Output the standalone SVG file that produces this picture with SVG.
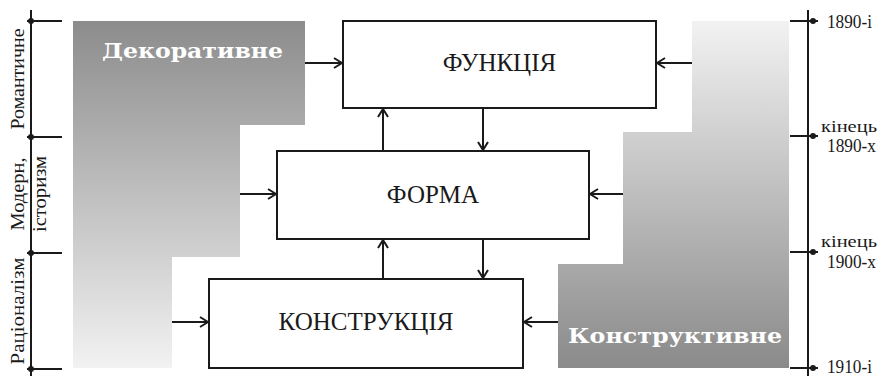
<svg xmlns="http://www.w3.org/2000/svg" width="879" height="376" viewBox="0 0 879 376">
  <style>
    .box { fill: #ffffff; stroke: #1a1a1a; stroke-width: 2; }
    .box-label { font-family: "Liberation Serif", "Times New Roman", serif; font-size: 25px; fill: #1a1a1a; text-anchor: middle; }
    .band-label { font-family: "DejaVu Serif", "Liberation Serif", serif; font-weight: bold; font-size: 20px; fill: #ffffff; }
    .axis { stroke: #1a1a1a; stroke-width: 2; fill: none; }
    .dot { fill: #1a1a1a; }
    .period { font-family: "Liberation Serif", "Times New Roman", serif; font-size: 19px; fill: #1a1a1a; text-anchor: middle; }
    .date { font-family: "Liberation Serif", "Times New Roman", serif; font-size: 18px; fill: #1a1a1a; }
    .date-small { font-family: "Liberation Serif", "Times New Roman", serif; font-size: 16px; fill: #1a1a1a; }
    .link { stroke: #1a1a1a; stroke-width: 2; fill: none; marker-end: url(#chevron); }
  </style>
  <defs>
    <linearGradient id="fadeDown" x1="0" y1="0" x2="0" y2="1">
      <stop offset="0" stop-color="#8c8c8c"/>
      <stop offset="1" stop-color="#f2f2f2"/>
    </linearGradient>
    <linearGradient id="fadeUp" x1="0" y1="0" x2="0" y2="1">
      <stop offset="0" stop-color="#f2f2f2"/>
      <stop offset="1" stop-color="#8a8a8a"/>
    </linearGradient>
    <marker id="chevron" viewBox="0 0 10 12" refX="9" refY="6" markerWidth="10" markerHeight="12" markerUnits="userSpaceOnUse" orient="auto">
      <path d="M1,1 L9,6 L1,11" fill="none" stroke="#1a1a1a" stroke-width="2"/>
    </marker>
  </defs>

  <rect width="879" height="376" fill="#ffffff"/>

  <!-- stepped shaded bands -->
  <g id="decorative">
    <path d="M73,21 H305 V125 H240 V257 H172 V368 H73 Z" fill="url(#fadeDown)"/>
    <text class="band-label" x="102" y="58" textLength="181" lengthAdjust="spacingAndGlyphs">Декоративне</text>
  </g>
  <g id="constructive">
    <path d="M692,21 H789 V368 H558 V264 H623 V132 H692 Z" fill="url(#fadeUp)"/>
    <text class="band-label" x="568" y="343" textLength="214" lengthAdjust="spacingAndGlyphs">Конструктивне</text>
  </g>

  <!-- left time axis with style periods -->
  <g id="left-axis">
    <line class="axis" x1="31" y1="10" x2="31" y2="376"/>
    <line class="axis" x1="27" y1="21" x2="62" y2="21"/>
    <line class="axis" x1="27" y1="137" x2="62" y2="137"/>
    <line class="axis" x1="27" y1="253" x2="62" y2="253"/>
    <line class="axis" x1="27" y1="369" x2="62" y2="369"/>
    <circle class="dot" cx="31" cy="21" r="3"/>
    <circle class="dot" cx="31" cy="137" r="3"/>
    <circle class="dot" cx="31" cy="253" r="3"/>
    <circle class="dot" cx="31" cy="369" r="3"/>
    <text class="period" transform="translate(24,79) rotate(-90)" textLength="101" lengthAdjust="spacingAndGlyphs">Романтичне</text>
    <text class="period" transform="translate(24,194) rotate(-90)" textLength="73" lengthAdjust="spacingAndGlyphs">Модерн,</text>
    <text class="period" transform="translate(46,194) rotate(-90)" textLength="76" lengthAdjust="spacingAndGlyphs">історизм</text>
    <text class="period" transform="translate(24,311) rotate(-90)" textLength="107" lengthAdjust="spacingAndGlyphs">Раціоналізм</text>
  </g>

  <!-- right time axis with dates -->
  <g id="right-axis">
    <line class="axis" x1="808" y1="10" x2="808" y2="376"/>
    <line class="axis" x1="790" y1="21" x2="818" y2="21"/>
    <line class="axis" x1="790" y1="136" x2="818" y2="136"/>
    <line class="axis" x1="790" y1="252" x2="818" y2="252"/>
    <line class="axis" x1="790" y1="368" x2="818" y2="368"/>
    <circle class="dot" cx="813" cy="21" r="3"/>
    <circle class="dot" cx="813" cy="136" r="3"/>
    <circle class="dot" cx="813" cy="252" r="3"/>
    <circle class="dot" cx="813" cy="368" r="3"/>
    <text class="date" x="827" y="28" textLength="45" lengthAdjust="spacingAndGlyphs">1890-і</text>
    <text class="date-small" x="821" y="132" textLength="56" lengthAdjust="spacingAndGlyphs">кінець</text>
    <text class="date" x="827" y="152" textLength="49" lengthAdjust="spacingAndGlyphs">1890-х</text>
    <text class="date-small" x="821" y="247" textLength="56" lengthAdjust="spacingAndGlyphs">кінець</text>
    <text class="date" x="827" y="268" textLength="49" lengthAdjust="spacingAndGlyphs">1900-х</text>
    <text class="date" x="827" y="373" textLength="45" lengthAdjust="spacingAndGlyphs">1910-і</text>
  </g>

  <!-- main blocks -->
  <g id="function">
    <rect class="box" x="343" y="21" width="313" height="87"/>
    <text class="box-label" x="499.5" y="71">ФУНКЦІЯ</text>
  </g>
  <g id="form">
    <rect class="box" x="277" y="151" width="312" height="88"/>
    <text class="box-label" x="433" y="203">ФОРМА</text>
  </g>
  <g id="construction">
    <rect class="box" x="209" y="279" width="314" height="89"/>
    <text class="box-label" x="366" y="330">КОНСТРУКЦІЯ</text>
  </g>

  <!-- connectors -->
  <g id="connectors">
    <line class="link" x1="305" y1="63" x2="342" y2="63"/>
    <line class="link" x1="240" y1="194" x2="276" y2="194"/>
    <line class="link" x1="172" y1="322" x2="208" y2="322"/>
    <line class="link" x1="692" y1="63" x2="657" y2="63"/>
    <line class="link" x1="623" y1="194" x2="590" y2="194"/>
    <line class="link" x1="558" y1="322" x2="524" y2="322"/>
    <line class="link" x1="383" y1="151" x2="383" y2="109"/>
    <line class="link" x1="483" y1="108" x2="483" y2="150"/>
    <line class="link" x1="383" y1="279" x2="383" y2="240"/>
    <line class="link" x1="483" y1="239" x2="483" y2="278"/>
  </g>
</svg>
